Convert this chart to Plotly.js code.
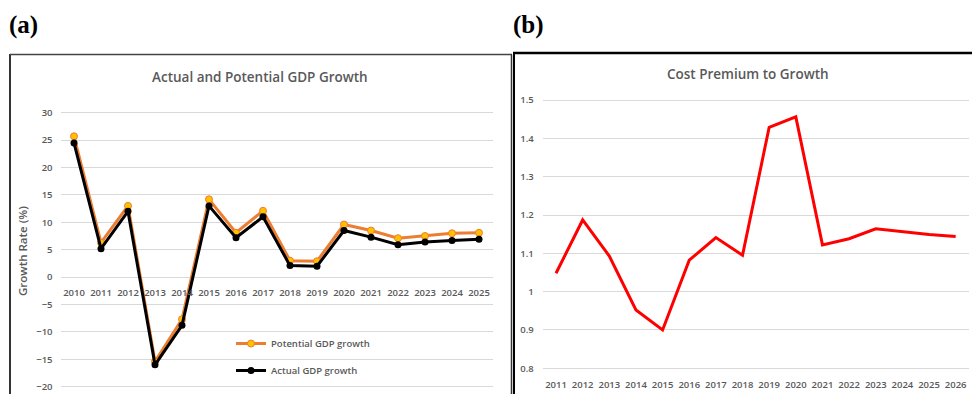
<!DOCTYPE html>
<html>
<head>
<meta charset="utf-8">
<script src="https://cdn.plot.ly/plotly-3.0.1.min.js"></script>
<style>
  html, body { margin: 0; padding: 0; background: #ffffff; }
  #chart { width: 972px; height: 394px; }
</style>
</head>
<body>
<div id="chart"></div>
<script>
// Panel (a): actual vs potential GDP growth, %
const yearsA = ['2010','2011','2012','2013','2014','2015','2016','2017','2018','2019','2020','2021','2022','2023','2024','2025'];
const potentialGrowth = [25.7, 6.3, 13.0, -15.4, -7.7, 14.2, 8.1, 12.1, 3.0, 2.9, 9.6, 8.5, 7.1, 7.5, 8.0, 8.1];
const actualGrowth    = [24.5, 5.2, 12.0, -16.0, -8.8, 13.0, 7.2, 11.0, 2.1, 2.0, 8.5, 7.3, 5.9, 6.4, 6.7, 6.9];
const yTicksA = [-20, -15, -10, -5, 0, 5, 10, 15, 20, 25, 30];

// Panel (b): cost premium to growth
const yearsB = ['2011','2012','2013','2014','2015','2016','2017','2018','2019','2020','2021','2022','2023','2024','2025','2026'];
const costPremium = [1.048, 1.187, 1.093, 0.952, 0.900, 1.082, 1.141, 1.095, 1.429, 1.456, 1.122, 1.138, 1.164, 1.157, 1.149, 1.144];
const yTicksB = [0.8, 0.9, 1.0, 1.1, 1.2, 1.3, 1.4, 1.5];

const W = 972, H = 394;
const fx = p => p / W;          // pixel column -> paper x
const fy = p => 1 - p / H;      // pixel row -> paper y

const FONT = 'Open Sans, Lato, DejaVu Sans, sans-serif';
const GRAY = '#595959';
const GRID = '#d9d9d9';

const traces = [
  {
    x: yearsA, y: potentialGrowth, type: 'scatter', mode: 'lines+markers',
    name: 'Potential GDP growth', xaxis: 'x', yaxis: 'y', legendgroup: 'p',
    line: { color: '#ED7D31', width: 3 },
    marker: { color: '#FFC000', size: 7, line: { color: '#ED7D31', width: 1 } }
  },
  {
    x: yearsA, y: actualGrowth, type: 'scatter', mode: 'lines+markers',
    name: 'Actual GDP growth', xaxis: 'x', yaxis: 'y', legendgroup: 'a',
    line: { color: '#000000', width: 3 },
    marker: { color: '#000000', size: 7 }
  },
  {
    x: yearsB, y: costPremium, type: 'scatter', mode: 'lines',
    name: 'Cost premium', xaxis: 'x2', yaxis: 'y2', showlegend: false,
    line: { color: '#FF0000', width: 3 }
  }
];

const tickFont = { family: FONT, size: 9.5, color: GRAY, weight: 600 };

const layout = {
  width: W, height: H,
  margin: { l: 0, r: 0, t: 0, b: 0, autoexpand: false },
  paper_bgcolor: '#ffffff', plot_bgcolor: 'rgba(0,0,0,0)',
  font: { family: FONT, color: GRAY },
  showlegend: true,
  legend: {
    x: fx(231), y: fy(329), xanchor: 'left', yanchor: 'top',
    bgcolor: 'rgba(0,0,0,0)', tracegroupgap: 8,
    font: { family: FONT, size: 9.5, color: GRAY, weight: 600 }
  },
  xaxis: {
    domain: [fx(60.5), fx(492.5)], type: 'category', automargin: false,
    range: [-0.5, yearsA.length - 0.5],
    anchor: 'free', position: fy(276.7),
    showgrid: false, showline: false, zeroline: false, ticks: '',
    ticklabelstandoff: 9, tickfont: tickFont, fixedrange: true
  },
  yaxis: {
    domain: [fy(392.2), fy(110)], range: [-21, 30.5], automargin: false,
    tickvals: yTicksA, showgrid: true, gridcolor: GRID, gridwidth: 1,
    zeroline: false, showline: false, ticks: '', tickfont: tickFont,
    ticklabelstandoff: 7,
    title: { text: 'Growth Rate (%)', font: { family: FONT, size: 11.5, color: GRAY, weight: 600 }, standoff: 6 },
    fixedrange: true
  },
  xaxis2: {
    domain: [fx(542.7), fx(969)], type: 'category', anchor: 'y2', automargin: false,
    range: [-0.5, yearsB.length - 0.5],
    showgrid: false, showline: false, zeroline: false, ticks: '',
    ticklabelstandoff: 7, tickfont: tickFont, fixedrange: true
  },
  yaxis2: {
    domain: [fy(370.2), fy(96.2)], range: [0.795, 1.51], anchor: 'x2', automargin: false,
    tickvals: yTicksB, ticktext: yTicksB.map(v => (v === 1 ? '1' : String(v))),
    showgrid: true, gridcolor: GRID, gridwidth: 1,
    zeroline: false, showline: false, ticks: '', tickfont: tickFont,
    ticklabelstandoff: 8, fixedrange: true
  },
  annotations: [
    { text: '<b>(a)</b>', xref: 'paper', yref: 'paper', x: fx(7), y: fy(25),
      xanchor: 'left', yanchor: 'middle', showarrow: false,
      font: { family: 'Liberation Serif, Times New Roman, serif', size: 25, color: '#000000' } },
    { text: '<b>(b)</b>', xref: 'paper', yref: 'paper', x: fx(511), y: fy(25),
      xanchor: 'left', yanchor: 'middle', showarrow: false,
      font: { family: 'Liberation Serif, Times New Roman, serif', size: 25, color: '#000000' } },
    { text: 'Actual and Potential GDP Growth', xref: 'paper', yref: 'paper',
      x: fx(260), y: fy(77), xanchor: 'center', yanchor: 'middle', showarrow: false,
      font: { family: FONT, size: 13.5, color: GRAY, weight: 600 } },
    { text: 'Cost Premium to Growth', xref: 'paper', yref: 'paper',
      x: fx(747.5), y: fy(74), xanchor: 'center', yanchor: 'middle', showarrow: false,
      font: { family: FONT, size: 13.5, color: GRAY, weight: 600 } }
  ],
  shapes: [
    // frame of panel (a)
    { type: 'line', xref: 'paper', yref: 'paper', x0: fx(10), x1: fx(10), y0: fy(54), y1: fy(400),
      line: { color: '#333333', width: 2 } },
    { type: 'line', xref: 'paper', yref: 'paper', x0: fx(10), x1: fx(512), y0: fy(54.5), y1: fy(54.5),
      line: { color: '#444444', width: 1.5 } },
    { type: 'line', xref: 'paper', yref: 'paper', x0: fx(511.5), x1: fx(511.5), y0: fy(54.5), y1: fy(400),
      line: { color: '#333333', width: 1.5 } },
    // frame of panel (b)
    { type: 'line', xref: 'paper', yref: 'paper', x0: fx(514), x1: fx(514), y0: fy(52.5), y1: fy(400),
      line: { color: '#000000', width: 2 } },
    { type: 'line', xref: 'paper', yref: 'paper', x0: fx(513), x1: fx(975), y0: fy(53), y1: fy(53),
      line: { color: '#000000', width: 2.5 } }
  ]
};

Plotly.newPlot('chart', traces, layout, { displayModeBar: false, staticPlot: true });
</script>
</body>
</html>
